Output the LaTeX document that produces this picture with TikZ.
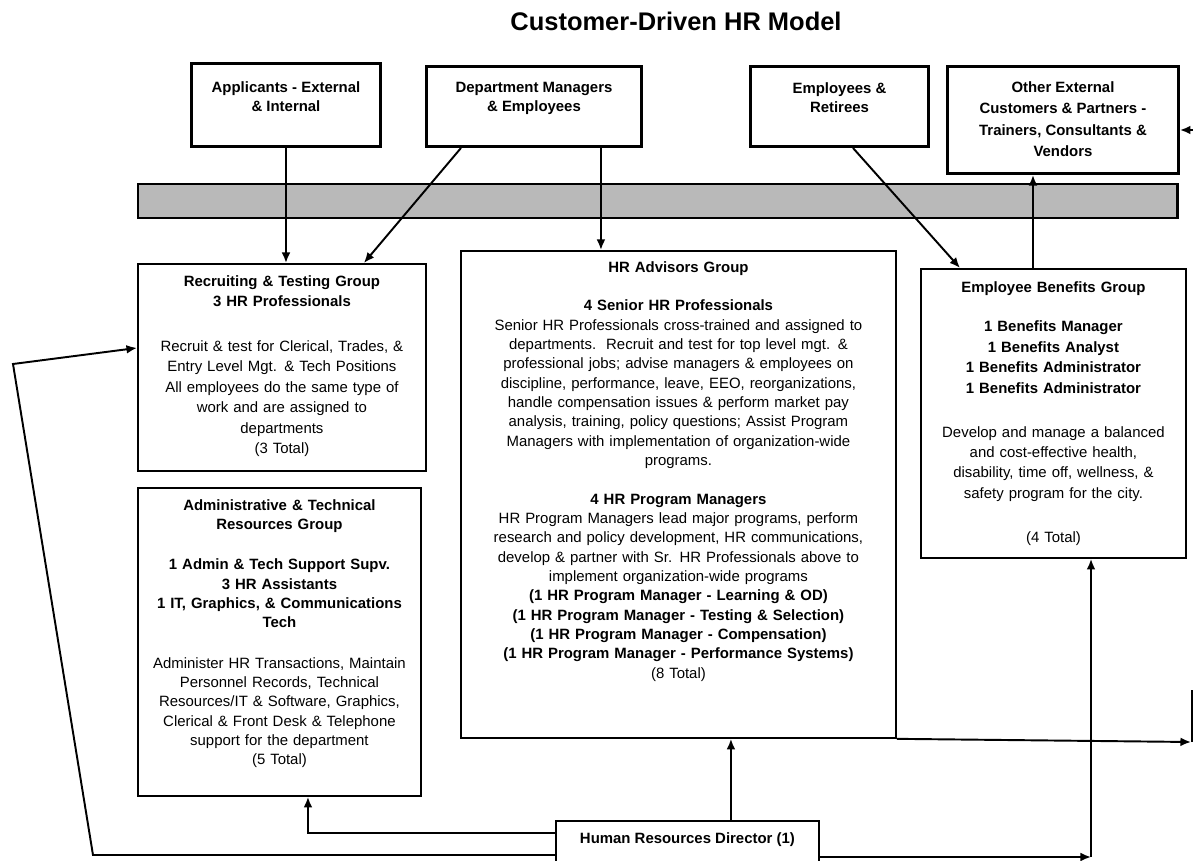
\documentclass[tikz,border=0pt]{standalone}
\usepackage{fontspec}
\setmainfont{Liberation Sans}
\usetikzlibrary{arrows.meta,positioning}

\tikzset{
  topbox/.style={draw, line width=1.7pt, inner sep=0pt, anchor=north west},
  grpbox/.style={draw, line width=1.1pt, inner sep=0pt, anchor=north west},
  txt/.style={anchor=north, align=center, inner sep=0pt, font=\fontsize{8.5}{11}\selectfont},
  hdr/.style={txt, font=\fontsize{8.5}{11}\selectfont\bfseries},
  conn/.style={line width=1.1pt, -{Latex[length=6pt,width=5pt]}},
  plain/.style={line width=1.1pt}
}

\begin{document}
\begin{tikzpicture}[x=0.02cm, y=-0.02cm]
        \useasboundingbox (0,0) rectangle (1193,861);
        \clip (0,0) rectangle (1193,861);

        \node[font=\fontsize{14.5}{17}\selectfont\bfseries] (title) at (676,21) {Customer-Driven HR Model};

        % customers
        \node[topbox, minimum width=3.78cm, minimum height=1.66cm] (appl) at (190,62) {};
        \node[hdr, below=0.38cm of appl.north] (appltxt) {Applicants - External\\ \& Internal};
        \node[topbox, minimum width=4.30cm, minimum height=1.60cm] (dept) at (425,65) {};
        \node[hdr, below=0.34cm of dept.north] (depttxt) {Department Managers\\ \& Employees};
        \node[topbox, minimum width=3.56cm, minimum height=1.60cm] (empl) at (749,65) {};
        \node[hdr, below=0.34cm of empl.north] (empltxt) {Employees \&\\ Retirees};
        \node[topbox, minimum width=4.62cm, minimum height=2.14cm] (othr) at (946,65) {};
        \node[hdr, font=\fontsize{8.5}{12.3}\selectfont\bfseries, below=0.32cm of othr.north] (othrtxt) {Other External\\ Customers \& Partners -\\ Trainers, Consultants \&\\ Vendors};

        \filldraw[fill=gray!55, line width=1.7pt] (138,184) rectangle (1177,218);

        % HR groups
        \node[grpbox, minimum width=5.76cm, minimum height=4.14cm] (rec) at (137,263) {};
        \node[txt, font=\fontsize{8.5}{11.6}\selectfont, text width=5.6cm, below=0.24cm of rec.north] (rectxt) {{\bfseries Recruiting \& Testing Group\\ 3 HR Professionals}\\[14pt]
          Recruit \& test for Clerical, Trades, \&\\ Entry Level Mgt. \& Tech Positions\\ All employees do the same type of\\
          work and are assigned to\\ departments\\ (3 Total)};

        \node[grpbox, minimum width=5.66cm, minimum height=6.16cm] (adm) at (137,487) {};
        \node[txt, text width=5.5cm, below=0.24cm of adm.north] (admtxt) {{\bfseries Administrative \& Technical\\ Resources Group}\\[12pt]
          {\bfseries 1 Admin \& Tech Support Supv.\\ 3 HR Assistants\\ 1 IT, Graphics, \& Communications\\ Tech}\\[12pt]
          Administer HR Transactions, Maintain\\ Personnel Records, Technical\\ Resources/IT \& Software, Graphics,\\
          Clerical \& Front Desk \& Telephone\\ support for the department\\ (5 Total)};

        \node[grpbox, minimum width=8.70cm, minimum height=9.74cm] (adv) at (460,250) {};
        \node[txt, text width=8.5cm, below=0.22cm of adv.north] (advtxt) {{\bfseries HR Advisors Group}\\[11pt]
          {\bfseries 4 Senior HR Professionals}\\
          Senior HR Professionals cross-trained and assigned to\\ departments.\ \ Recruit and test for top level mgt. \&\\
          professional jobs; advise managers \& employees on\\ discipline, performance, leave, EEO, reorganizations,\\
          handle compensation issues \& perform market pay\\ analysis, training, policy questions; Assist Program\\
          Managers with implementation of organization-wide\\ programs.\\[11pt]
          {\bfseries 4 HR Program Managers}\\
          HR Program Managers lead major programs, perform\\ research and policy development, HR communications,\\
          develop \& partner with Sr. HR Professionals above to\\ implement organization-wide programs\\
          {\bfseries (1 HR Program Manager - Learning \& OD)\\ (1 HR Program Manager - Testing \& Selection)\\
          (1 HR Program Manager - Compensation)\\ (1 HR Program Manager - Performance Systems)}\\
          (8 Total)};

        \node[grpbox, minimum width=5.30cm, minimum height=5.78cm] (ben) at (920,268) {};
        \node[txt, font=\fontsize{8.5}{11.6}\selectfont, text width=5.1cm, below=0.26cm of ben.north] (bentxt) {{\bfseries Employee Benefits Group}\\[11pt]
          {\bfseries 1 Benefits Manager\\ 1 Benefits Analyst\\ 1 Benefits Administrator\\ 1 Benefits Administrator}\\[13.5pt]
          Develop and manage a balanced\\ and cost-effective health,\\ disability, time off, wellness, \&\\
          safety program for the city.\\[13.5pt]
          (4 Total)};

        \node[grpbox, minimum width=5.26cm, minimum height=1.4cm] (dir) at (555,820) {};
        \node[hdr, below=0.24cm of dir.north] (dirtxt) {Human Resources Director (1)};

        % links
        \coordinate (bendlow) at (93,855);
        \coordinate (bendtop) at (13,364);
        \coordinate (benfoot) at (1091,857);
        \coordinate (edgeR) at (1191,742);
        \coordinate (edgeRtop) at (1192,690);
        \coordinate (edgeD) at (1193,130);

        \draw[conn] (appl.south) -- (appl.south |- rec.north);
        \draw[conn] ([xshift=0.72cm]dept.south west) -- ([xshift=-1.26cm]rec.north east);
        \draw[conn] ([xshift=-0.84cm]dept.south east) -- ([xshift=-0.84cm]dept.south east |- adv.north);
        \draw[conn] ([xshift=-1.54cm]empl.south east) -- ([xshift=0.8cm]ben.north west);
        \draw[conn] ([xshift=2.26cm]ben.north west) -- ([xshift=2.26cm]ben.north west |- othr.south);
        \draw[conn] (edgeD) -- (edgeD -| othr.east);

        \draw[conn] ([xshift=0.87cm]dir.north) -- ([xshift=0.87cm]dir.north |- adv.south);
        \draw[conn] ([yshift=-0.26cm]dir.north west) -| ([xshift=3.42cm]adm.south west);
        \draw[conn] ([yshift=-0.7cm]dir.north west) -- (bendlow) -- (bendtop) -- ([yshift=0.39cm]rec.west);
        \draw[conn] ([yshift=-0.74cm]dir.north east) -- (benfoot);
        \draw[conn] (benfoot) -- (benfoot |- ben.south);
        \draw[conn] (adv.south east) -- (edgeR);
        \draw[plain] (edgeRtop) -- (edgeRtop |- edgeR);
      \end{tikzpicture}
\end{document}
